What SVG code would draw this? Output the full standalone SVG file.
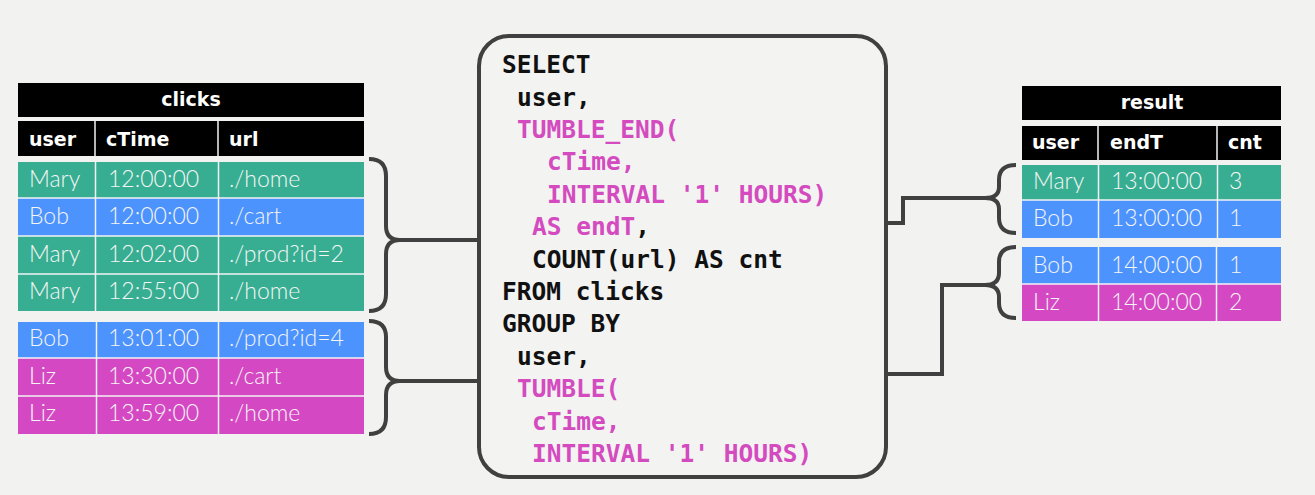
<svg xmlns="http://www.w3.org/2000/svg" width="1315" height="495" viewBox="0 0 1315 495">
<style>
.hd{fill:#000}
.g{fill:#37ae92}.b{fill:#4c93fe}.m{fill:#d548c3}
.sep{stroke:#f3f3f3;stroke-width:1.5}
.ht{font-family:"DejaVu Sans","Noto Sans",sans-serif;font-weight:bold;font-size:19px;fill:#fff}
.ct{font-family:Lato,"Open Sans",sans-serif;font-weight:300;font-size:23px;fill:#f5f5f5}
.code{font-family:"DejaVu Sans Mono","Liberation Mono",monospace;font-weight:bold;font-size:24.5px}
.k{fill:#111}.p{fill:#d44bc0}
.ln{fill:none;stroke:#404040;stroke-width:4;stroke-linejoin:miter}
</style>
<rect width="1315" height="495" fill="#f2f2f0"/>

<g id="clicks">
<rect class="hd" x="18" y="83" width="346" height="34"/>
<text class="ht" x="191" y="106" text-anchor="middle">clicks</text>
<rect class="hd" x="18" y="121" width="346" height="35"/>
<line class="sep" x1="95" y1="121" x2="95" y2="156"/>
<line class="sep" x1="218" y1="121" x2="218" y2="156"/>
<text class="ht" x="29" y="146">user</text>
<text class="ht" x="106" y="146">cTime</text>
<text class="ht" x="229" y="146">url</text>

<rect class="g" x="18" y="162" width="346" height="36"/>
<rect class="b" x="18" y="198" width="346" height="38"/>
<rect class="g" x="18" y="236" width="346" height="38"/>
<rect class="g" x="18" y="274" width="346" height="37"/>
<rect class="b" x="18" y="322" width="346" height="36"/>
<rect class="m" x="18" y="358" width="346" height="38"/>
<rect class="m" x="18" y="396" width="346" height="38"/>
<g class="sep">
<line x1="18" y1="198" x2="364" y2="198"/>
<line x1="18" y1="236" x2="364" y2="236"/>
<line x1="18" y1="274" x2="364" y2="274"/>
<line x1="18" y1="358" x2="364" y2="358"/>
<line x1="18" y1="396" x2="364" y2="396"/>
<line x1="95.5" y1="162" x2="95.5" y2="311"/>
<line x1="218.5" y1="162" x2="218.5" y2="311"/>
<line x1="96.5" y1="322" x2="96.5" y2="434"/>
<line x1="218.5" y1="322" x2="218.5" y2="434"/>
</g>
<g class="ct">
<text x="29" y="187">Mary</text><text x="108" y="187">12:00:00</text><text x="229" y="187">./home</text>
<text x="29" y="224">Bob</text><text x="108" y="224">12:00:00</text><text x="229" y="224">./cart</text>
<text x="29" y="262">Mary</text><text x="108" y="262">12:02:00</text><text x="229" y="262">./prod?id=2</text>
<text x="29" y="299">Mary</text><text x="108" y="299">12:55:00</text><text x="229" y="299">./home</text>
<text x="29" y="346">Bob</text><text x="108" y="346">13:01:00</text><text x="229" y="346">./prod?id=4</text>
<text x="29" y="384">Liz</text><text x="108" y="384">13:30:00</text><text x="229" y="384">./cart</text>
<text x="29" y="421">Liz</text><text x="108" y="421">13:59:00</text><text x="229" y="421">./home</text>
</g>
</g>

<g id="query">
<rect x="479" y="36" width="407" height="441" rx="30" ry="30" fill="#f3f3f1" stroke="#404040" stroke-width="4"/>
<g class="code">
<text class="k" x="502" y="73">SELECT</text>
<text class="k" x="517" y="106">user,</text>
<text class="p" x="517" y="138">TUMBLE_END(</text>
<text class="p" x="547" y="170">cTime,</text>
<text class="p" x="547" y="203">INTERVAL '1' HOURS)</text>
<text class="p" x="532" y="235">AS endT<tspan class="k">,</tspan></text>
<text class="k" x="532" y="268">COUNT(url) AS cnt</text>
<text class="k" x="502" y="300">FROM clicks</text>
<text class="k" x="502" y="332">GROUP BY</text>
<text class="k" x="517" y="365">user,</text>
<text class="p" x="517" y="397">TUMBLE(</text>
<text class="p" x="532" y="430">cTime,</text>
<text class="p" x="532" y="462">INTERVAL '1' HOURS)</text>
</g>
</g>

<g id="result">
<rect class="hd" x="1022" y="86" width="259" height="34"/>
<text class="ht" x="1152" y="109" text-anchor="middle">result</text>
<rect class="hd" x="1022" y="126" width="259" height="34"/>
<line class="sep" x1="1098" y1="126" x2="1098" y2="160"/>
<line class="sep" x1="1217" y1="126" x2="1217" y2="160"/>
<text class="ht" x="1032" y="149">user</text>
<text class="ht" x="1110" y="149">endT</text>
<text class="ht" x="1228" y="149">cnt</text>
<rect class="g" x="1022" y="165" width="259" height="35"/>
<rect class="b" x="1022" y="200" width="259" height="38"/>
<rect class="b" x="1022" y="247" width="259" height="37"/>
<rect class="m" x="1022" y="284" width="259" height="37"/>
<g class="sep">
<line x1="1022" y1="200" x2="1281" y2="200"/>
<line x1="1022" y1="284" x2="1281" y2="284"/>
<line x1="1098.5" y1="165" x2="1098.5" y2="238"/>
<line x1="1217.5" y1="165" x2="1217.5" y2="238"/>
<line x1="1098.5" y1="247" x2="1098.5" y2="321"/>
<line x1="1216.5" y1="247" x2="1216.5" y2="321"/>
</g>
<g class="ct">
<text x="1033" y="189">Mary</text><text x="1111" y="189">13:00:00</text><text x="1229" y="189">3</text>
<text x="1033" y="226">Bob</text><text x="1111" y="226">13:00:00</text><text x="1229" y="226">1</text>
<text x="1033" y="273">Bob</text><text x="1111" y="273">14:00:00</text><text x="1229" y="273">1</text>
<text x="1033" y="310">Liz</text><text x="1111" y="310">14:00:00</text><text x="1229" y="310">2</text>
</g>
</g>

<g id="connectors">
<path class="ln" d="M369,159 Q386,159 386,176 V226 Q386,240 400,240 Q386,240 386,254 V294 Q386,311 369,311"/>
<path class="ln" d="M369,321 Q386,321 386,337 V367 Q386,381 400,381 Q386,381 386,395 V417 Q386,434 369,434"/>
<path class="ln" d="M398,240 H479"/>
<path class="ln" d="M398,381 H479"/>
<path class="ln" d="M1016,165 Q999,165 999,180 V187 Q999,198 985,198 Q999,198 999,209 V218 Q999,233 1016,233"/>
<path class="ln" d="M1016,247 Q999,247 999,262 V273 Q999,285 985,285 Q999,285 999,297 V303 Q999,318 1016,318"/>
<path class="ln" d="M886,223 H903 V198 H987"/>
<path class="ln" d="M886,374 H942 V285 H987"/>
</g>
</svg>
